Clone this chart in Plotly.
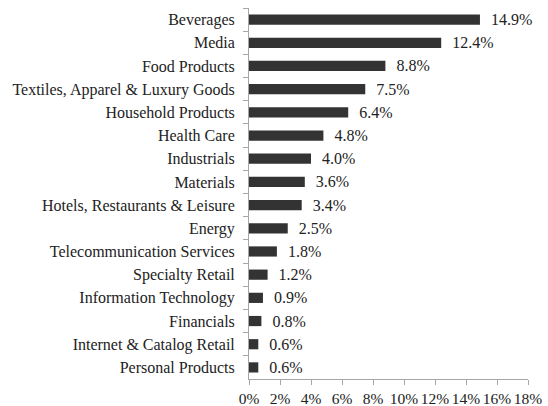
import plotly.graph_objects as go

categories = ["Beverages", "Media", "Food Products", "Textiles, Apparel & Luxury Goods",
              "Household Products", "Health Care", "Industrials", "Materials",
              "Hotels, Restaurants & Leisure", "Energy", "Telecommunication Services",
              "Specialty Retail", "Information Technology", "Financials",
              "Internet & Catalog Retail", "Personal Products"]
values = [14.9, 12.4, 8.8, 7.5, 6.4, 4.8, 4.0, 3.6, 3.4, 2.5, 1.8, 1.2, 0.9, 0.8, 0.6, 0.6]
x_ticks = [0, 2, 4, 6, 8, 10, 12, 14, 16, 18]
x_tick_labels = [f"{t}%" for t in x_ticks]

FONT = "Liberation Serif"

fig = go.Figure(go.Bar(
    x=values, y=categories, orientation="h",
    marker=dict(color="#333333", line=dict(width=0)),
    width=0.44,
    text=["\u00a0\u00a0" + f"{v:.1f}%" for v in values],
    textposition="outside", cliponaxis=False, constraintext="none",
    textfont=dict(family=FONT, size=16, color="#222222"),
))

fig.update_layout(
    width=548, height=406,
    margin=dict(l=249, r=20, t=8, b=27, autoexpand=False),
    paper_bgcolor="white", plot_bgcolor="white",
    font=dict(family=FONT, size=16, color="#222222"),
    showlegend=False,
    uniformtext=dict(mode=False),
)
fig.update_xaxes(
    range=[0, 18], tickvals=x_ticks, ticktext=x_tick_labels,
    showgrid=False, zeroline=False,
    showline=True, linecolor="#a6a6a6", linewidth=1,
    ticks="outside", ticklen=5, tickcolor="#a6a6a6",
    tickangle=0, automargin=False,
    tickfont=dict(family=FONT, size=15.5, color="#222222"),
)
fig.update_yaxes(
    categoryorder="array", categoryarray=categories, autorange="reversed",
    showgrid=False, zeroline=False,
    showline=True, linecolor="#a6a6a6", linewidth=1,
    ticks="outside", ticklen=5, tickcolor="#a6a6a6", tickson="boundaries",
    ticklabelstandoff=10, automargin=False,
    tickfont=dict(family=FONT, size=16, color="#222222"),
)

fig.write_html("out.html")
